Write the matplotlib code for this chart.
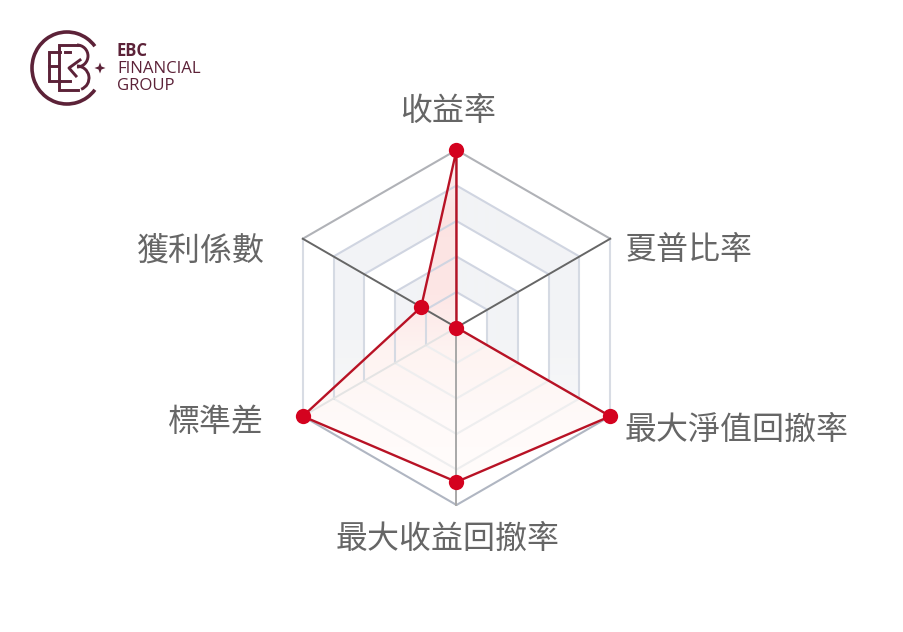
import numpy as np
import matplotlib
matplotlib.use("Agg")
import matplotlib.pyplot as plt
from matplotlib.colors import to_rgb
from matplotlib.patches import Arc, Polygon, PathPatch
from matplotlib.path import Path

plt.rcParams['font.family'] = ['Noto Sans CJK TC', 'DejaVu Sans']

labels = ['收益率', '夏普比率', '最大淨值回撤率', '最大收益回撤率', '標準差', '獲利係數']
values = [1.0, 0.0, 1.0, 0.87, 1.0, 0.23]
levels = [0.2, 0.4, 0.6, 0.8, 1.0]
shaded_bands = [(0.2, 0.4), (0.6, 0.8)]

# (x, y, ha) of every label, in pixels
label_pos = [(448.5, 111, 'center'), (625, 250.5, 'left'), (625, 429.5, 'left'),
             (448, 539, 'center'), (263.5, 421.5, 'right'), (264.5, 250.5, 'right')]

# colour of ring segments, starting at the segment after each axis
ring_colors = ['#d0d5e1', '#d5dae3', '#eeeeef', '#eeeeef', '#d5dae3', '#d0d5e1']
outer_colors = ['#b0b2b7', '#d8dce4', '#b0b6c2', '#b0b6c2', '#d8dce4', '#b0b2b7']
spoke_colors = ['#aaaaaa', '#666666', '#e4e4e4', '#a8a8a8', '#e4e4e4', '#666666']

cx, cy, radius = 456.5, 327.5, 177.5
RED_LINE = '#b81225'
RED_DOT = '#d4021f'
LOGO = '#5c2238'

fig = plt.figure(figsize=(9.04, 6.32), dpi=100)
ax = fig.add_axes([0, 0, 1, 1])
ax.set_xlim(0, 904)
ax.set_ylim(632, 0)
ax.axis('off')


def to_xy(i, v):
    a = np.pi * i / 3
    return cx + radius * v * np.sin(a), cy - radius * v * np.cos(a)


def ring(v):
    return [to_xy(i, v) for i in range(6)]


def gradient_fill(path_pts, stops, zorder):
    # vertical fade, stops are (y pixel, colour)
    ys = np.arange(140, 515)
    img = np.ones((len(ys), 1, 3))
    rgb = np.array([to_rgb(s[1]) for s in stops])
    for k in range(3):
        img[:, 0, k] = np.interp(ys, [s[0] for s in stops], rgb[:, k])
    im = ax.imshow(img, extent=(280, 640, 515, 140), aspect='auto', zorder=zorder, interpolation='bilinear')
    patch = Polygon(path_pts, closed=True, transform=ax.transData, fc='none', ec='none')
    ax.add_patch(patch)
    im.set_clip_path(patch)


for low, high in shaded_bands:
    outer = ring(high)
    inner = ring(low)
    pts = outer + [outer[0], inner[0]] + inner[::-1]
    gradient_fill(pts, [(140, '#f2f3f6'), (340, '#f3f4f6'), (410, '#f7f8f9'), (515, '#ffffff')], 1)

data_pts = [to_xy(i, v) for i, v in enumerate(values)]
gradient_fill(data_pts, [(150, '#fdf2f2'), (210, '#fce3e2'), (290, '#fde6e5'),
                         (350, '#fef3f1'), (420, '#fffaf9'), (500, '#fffdfc')], 2)

for v in levels:
    pts = ring(v)
    colors = outer_colors if v == 1.0 else ring_colors
    for i in range(6):
        a, b = pts[i], pts[(i + 1) % 6]
        ax.plot([a[0], b[0]], [a[1], b[1]], color=colors[i], lw=1.5, zorder=3, solid_capstyle='round')

for i in range(6):
    x, y = to_xy(i, 1.0)
    ax.plot([cx, x], [cy, y], color=spoke_colors[i], lw=1.4, zorder=3)

xs = [p[0] for p in data_pts]
ys = [p[1] for p in data_pts]
ax.plot(xs + xs[:1], ys + ys[:1], color=RED_LINE, lw=1.7, zorder=4, solid_joinstyle='miter')
ax.plot(xs, ys, 'o', color=RED_DOT, ms=11, mec='none', zorder=5)

for text, (x, y, ha) in zip(labels, label_pos):
    ax.text(x, y, text, fontsize=23, color='#666666', ha=ha, va='center', zorder=6)

# logo
ax.add_patch(Arc((67, 68), 70, 72, theta1=38, theta2=322, color=LOGO, lw=2.6, zorder=6))
for seg in [[(60, 52), (49, 52), (49, 81), (60, 81)],
            [(49, 66), (58, 66)],
            [(78, 45), (59, 45), (59, 90), (78, 90)],
            [(65, 52), (70, 52)],
            [(62, 81), (70, 81)]]:
    ax.plot(*zip(*seg), color=LOGO, lw=2.1, zorder=6, solid_joinstyle='miter')
ax.add_patch(Arc((77, 56), 22, 22, theta1=-90, theta2=90, color=LOGO, lw=2.1, zorder=6))
ax.add_patch(Arc((77, 78), 24, 24, theta1=-90, theta2=70, color=LOGO, lw=2.1, zorder=6))
ax.plot([80, 69, 76], [60, 68, 76], color=LOGO, lw=2.1, zorder=6)
star = Path([(100, 62.5), (101.5, 66.5), (105.5, 68), (101.5, 69.5), (100, 73.5),
             (98.5, 69.5), (94.5, 68), (98.5, 66.5), (100, 62.5)])
ax.add_patch(PathPatch(star, fc=LOGO, ec='none', zorder=6))

ax.text(117, 51.5, 'EBC', fontsize=12, color=LOGO, fontweight='bold', family='Open Sans', va='center')
ax.text(117, 69, 'FINANCIAL', fontsize=12.1, color=LOGO, family='Open Sans', va='center')
ax.text(117, 85.5, 'GROUP', fontsize=12.1, color=LOGO, family='Open Sans', va='center')

fig.savefig('out.png', dpi=100)
